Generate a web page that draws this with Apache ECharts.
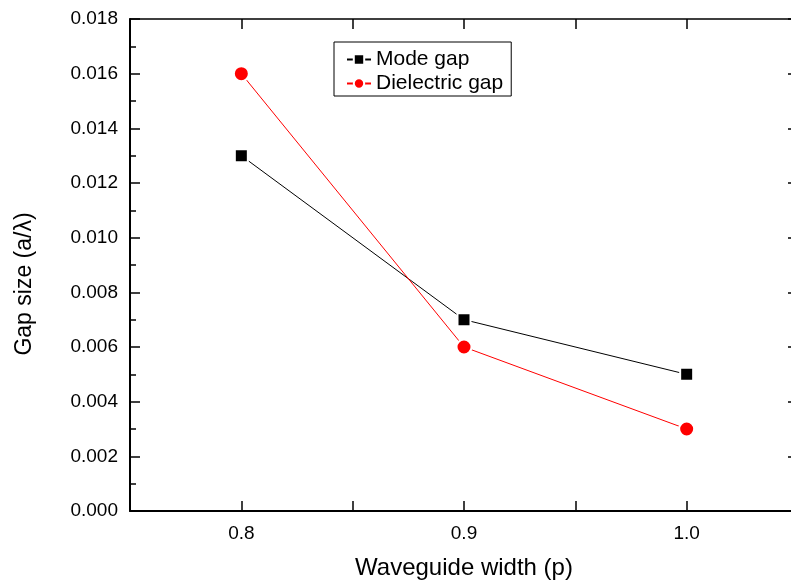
<!DOCTYPE html>
<html>
<head>
<meta charset="utf-8">
<script src="https://cdn.jsdelivr.net/npm/echarts@6/dist/echarts.min.js"></script>
<style>
  html, body { margin: 0; padding: 0; background: #fff; }
  #chart { width: 791px; height: 582px; }
</style>
</head>
<body>
<div id="chart"></div>
<script>
// Waveguide widths (p) and the corresponding gap sizes (a/lambda)
const widths = [0.8, 0.9, 1.0];
const modeGap = [0.013, 0.007, 0.005];
const dielectricGap = [0.016, 0.006, 0.003];
const xTickLabels = ['0.8', '0.9', '1.0'];

const FONT = '"Liberation Sans", Arial, sans-serif';

const chart = echarts.init(document.getElementById('chart'));

const frameLine = { show: true, onZero: false, lineStyle: { color: '#000', width: 1.5 } };
const majorTick = { show: true, inside: true, length: 10, lineStyle: { color: '#000', width: 1.5 } };
const minorTick = { show: true, splitNumber: 2, length: 6, lineStyle: { color: '#000', width: 1.5 } };

function pairs(xs, ys) {
  return xs.map((x, i) => [x, ys[i]]);
}

chart.setOption({
  animation: false,
  backgroundColor: '#fff',
  grid: {
    left: 130, top: 19, width: 668, height: 492,
    containLabel: false,
    outerBoundsMode: 'none'
  },
  legend: {
    left: 334,
    top: 42,
    orient: 'vertical',
    itemWidth: 24,
    itemHeight: 13,
    itemGap: 3,
    padding: [7, 8, 2, 12],
    borderColor: '#000',
    borderWidth: 1,
    backgroundColor: '#fff',
    textStyle: { fontFamily: FONT, fontSize: 21, color: '#000' },
    data: ['Mode gap', 'Dielectric gap']
  },
  graphic: [
    {
      type: 'text',
      x: 25,
      y: 284,
      rotation: Math.PI / 2,
      style: {
        text: 'Gap size (a/\u03BB)',
        font: '23px ' + FONT,
        fill: '#000',
        align: 'center',
        verticalAlign: 'middle'
      }
    }
  ],
  xAxis: [
    {
      type: 'value',
      min: 0.75,
      max: 1.05,
      interval: 0.05,
      position: 'bottom',
      axisLine: { show: true, onZero: false, lineStyle: { color: '#000', width: 2 } },
      axisTick: majorTick,
      splitLine: { show: false },
      axisLabel: {
        margin: 13,
        fontFamily: FONT,
        fontSize: 19,
        color: '#000',
        formatter: v => {
          const i = widths.findIndex(w => Math.abs(w - v) < 1e-9);
          return i >= 0 ? xTickLabels[i] : '';
        }
      },
      name: 'Waveguide width (p)',
      nameLocation: 'middle',
      nameGap: 45,
      nameTextStyle: { fontFamily: FONT, fontSize: 24, color: '#000' }
    },
    {
      type: 'value',
      min: 0.75,
      max: 1.05,
      interval: 0.05,
      position: 'top',
      axisLine: frameLine,
      axisTick: majorTick,
      axisLabel: { show: false },
      splitLine: { show: false }
    }
  ],
  yAxis: [
    {
      type: 'value',
      min: 0,
      max: 0.018,
      interval: 0.002,
      position: 'left',
      axisLine: { show: true, onZero: false, lineStyle: { color: '#000', width: 2 } },
      axisTick: majorTick,
      minorTick: minorTick,
      splitLine: { show: false },
      axisLabel: {
        margin: 12,
        fontFamily: FONT,
        fontSize: 19,
        color: '#000',
        formatter: v => v.toFixed(3)
      }
    },
    {
      type: 'value',
      min: 0,
      max: 0.018,
      interval: 0.002,
      position: 'right',
      axisLine: frameLine,
      axisTick: majorTick,
      minorTick: minorTick,
      axisLabel: { show: false },
      splitLine: { show: false }
    }
  ],
  series: [
    {
      name: 'Mode gap',
      type: 'line',
      data: pairs(widths, modeGap),
      symbol: 'rect',
      symbolSize: 13,
      lineStyle: { color: '#000', width: 1 },
      itemStyle: { color: '#000', borderColor: '#fff', borderWidth: 2 },
      z: 3
    },
    {
      name: 'Dielectric gap',
      type: 'line',
      data: pairs(widths, dielectricGap),
      symbol: 'circle',
      symbolSize: 15,
      lineStyle: { color: '#ff0000', width: 1 },
      itemStyle: { color: '#ff0000', borderColor: '#fff', borderWidth: 2 },
      z: 4
    }
  ]
});
</script>
</body>
</html>
